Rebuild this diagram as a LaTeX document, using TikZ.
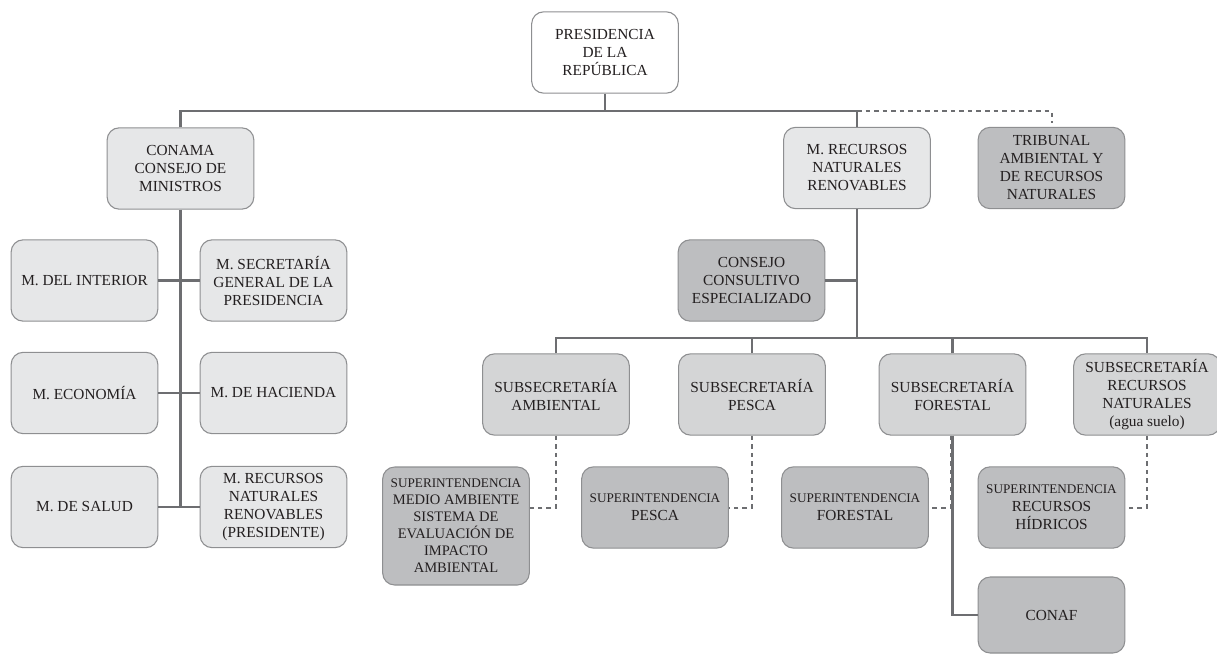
\documentclass[tikz,border=0pt]{standalone}
\usepackage{fontspec}
\setmainfont{Liberation Serif}
\usepackage{xcolor}
\usetikzlibrary{positioning,calc}

\definecolor{linea}{HTML}{6D6E71}
\definecolor{borde}{HTML}{8E8F91}
\definecolor{clarofill}{HTML}{E6E7E8}
\definecolor{mediofill}{HTML}{D4D5D6}
\definecolor{oscurofill}{HTML}{BDBEC0}
\definecolor{texto}{HTML}{231F20}

\newcommand{\chica}[1]{{\fontsize{9.9}{12}\selectfont #1}}

\begin{document}
\begin{tikzpicture}[x=0.75pt,y=-0.75pt,
	caja/.style={draw=borde,line width=0.8pt,rounded corners=9pt,align=center,
		minimum width=110pt,minimum height=61pt,inner sep=1pt,text=texto,
		font=\fontsize{11.5}{13.5}\selectfont},
	blanca/.style={caja,fill=white},
	clara/.style={caja,fill=clarofill},
	media/.style={caja,fill=mediofill},
	oscura/.style={caja,fill=oscurofill},
	enlace/.style={draw=linea,line width=1.6pt},
	punteado/.style={draw=linea,line width=1.5pt,dash pattern=on 3.4pt off 3pt}]
	\useasboundingbox (0,0) rectangle (1217,654);
	
	% presidencia
	\node[blanca] (pres) at (605,52.5) {PRESIDENCIA\\DE LA\\REPÚBLICA};
	\coordinate (b1) at (605,111);
	
	% rama CONAMA
	\node[clara] (conama) at (180.5,168.5) {CONAMA\\CONSEJO DE\\MINISTROS};
	\node[clara] (int) at (84.5,280.5) {M. DEL INTERIOR};
	\node[clara] (sec) at (273.5,280.5) {M. SECRETARÍA\\GENERAL DE LA\\PRESIDENCIA};
	\node[clara] (eco) at (84.5,393) {M. ECONOMÍA};
	\node[clara] (hac) at (273.5,393) {M. DE HACIENDA};
	\node[clara] (sal) at (84.5,507) {M. DE SALUD};
	\node[clara] (mrnp) at (273.5,507) {M. RECURSOS\\NATURALES\\RENOVABLES\\(PRESIDENTE)};
	
	% ministerio y tribunal
	\node[clara] (mrr) at (857,168) {M. RECURSOS\\NATURALES\\RENOVABLES};
	\node[oscura] (trib) at (1051.5,168) {TRIBUNAL\\AMBIENTAL Y\\DE RECURSOS\\NATURALES};
	\node[oscura] (cons) at (751.5,280.5) {CONSEJO\\CONSULTIVO\\ESPECIALIZADO};
	\coordinate (b2) at (857,338);
	
	% subsecretarías
	\node[media] (subA) at (556,394.5) {SUBSECRETARÍA\\AMBIENTAL};
	\node[media] (subP) at (752,394.5) {SUBSECRETARÍA\\PESCA};
	\node[media] (subF) at (952.5,394.5) {SUBSECRETARÍA\\FORESTAL};
	\node[media] (subR) at (1147,394.5) {SUBSECRETARÍA\\RECURSOS\\NATURALES\\(agua suelo)};
	
	% superintendencias
	\node[oscura,minimum height=88.5pt,font=\fontsize{10.9}{12.75}\selectfont] (supMA) at (456,526)
		{\chica{SUPERINTENDENCIA}\\MEDIO AMBIENTE\\SISTEMA DE\\EVALUACIÓN DE\\IMPACTO\\AMBIENTAL};
	\node[oscura] (supP) at (655,507.5) {\chica{SUPERINTENDENCIA}\\PESCA};
	\node[oscura] (supF) at (855,507.5) {\chica{SUPERINTENDENCIA}\\FORESTAL};
	\node[oscura] (supH) at (1051.5,507.5) {\chica{SUPERINTENDENCIA}\\RECURSOS\\HÍDRICOS};
	\node[oscura,minimum height=57pt] (conaf) at (1051.5,615) {CONAF};
	
	% líneas superiores
	\draw[enlace] (pres.south) -- (b1);
	\draw[enlace] (conama.north) -- (conama.north |- b1) -- (mrr.north |- b1) -- (mrr.north);
	\draw[punteado] (mrr.north |- b1) -- (trib.north |- b1) -- ([yshift=3pt]trib.north);
	
	% consejo de ministros
	\draw[enlace] (conama.south) -- (conama.south |- sal.east);
	\foreach \a/\b in {int/sec,eco/hac,sal/mrnp} {
		\draw[enlace] (\a.east) -- (\b.west);
	}
	
	% ministerio hacia abajo
	\draw[enlace] (mrr.south) -- (b2);
	\draw[enlace] (cons.east) -- (cons.east -| b2);
	\draw[enlace] (subA.north) |- (b2) -| (subR.north);
	\draw[enlace] (subP.north) -- (subP.north |- b2);
	\draw[enlace] (subF.north) -- (subF.north |- b2);
	
	% dependencias
	\draw[punteado] (subA.south) |- (supMA.east |- supP.east);
	\foreach \s/\t in {subP/supP,subR/supH} {
		\draw[punteado] (\s.south) |- (\t.east);
	}
	\draw[punteado] ([xshift=-1.5pt]subF.south) |- (supF.east);
	\draw[enlace] (subF.south) |- (conaf.west);
\end{tikzpicture}
\end{document}
